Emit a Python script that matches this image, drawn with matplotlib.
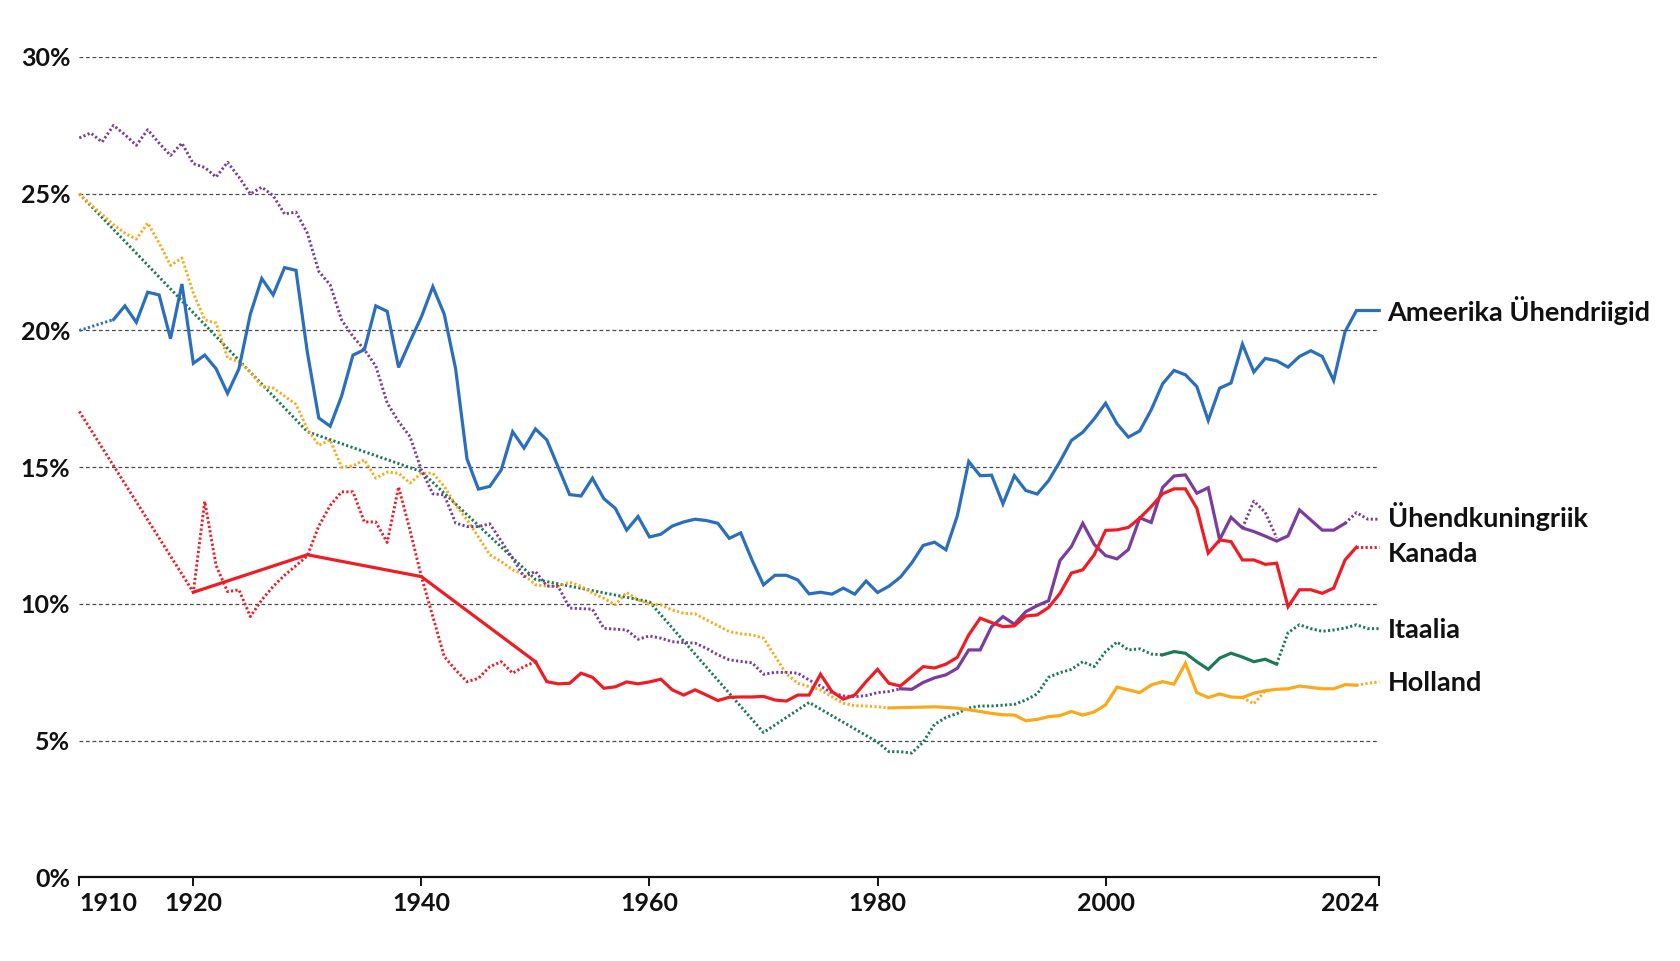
import matplotlib
matplotlib.use("Agg")
import matplotlib.pyplot as plt

# ---------------- data ----------------
# USA
us_est_years = [1910, 1913]
us_est_vals = [20.0, 20.4]
us_years = list(range(1913, 2025))
us_vals = [20.4, 20.9, 20.3, 21.4, 21.3, 19.7, 21.7, 18.8, 19.1, 18.6,
           17.7, 18.6, 20.6, 21.9, 21.3, 22.3, 22.2, 19.2, 16.8, 16.5,
           17.6, 19.1, 19.3, 20.9, 20.7, 18.65, 19.6, 20.5, 21.6, 20.6,
           18.6, 15.3, 14.2, 14.3, 14.9, 16.3, 15.7, 16.4, 16.0, 15.0,
           14.0, 13.95, 14.6, 13.85, 13.5, 12.7, 13.2, 12.45, 12.55, 12.85,
           13.0, 13.1, 13.05, 12.95, 12.4, 12.6, 11.6, 10.7, 11.05, 11.05,
           10.88, 10.37, 10.43, 10.36, 10.58, 10.36, 10.84, 10.42, 10.65, 10.98,
           11.5, 12.14, 12.26, 11.98, 13.23, 15.21, 14.69, 14.71, 13.66, 14.69,
           14.15, 14.02, 14.51, 15.21, 15.98, 16.28, 16.77, 17.34, 16.59, 16.1,
           16.33, 17.1, 18.05, 18.54, 18.38, 17.95, 16.71, 17.89, 18.08, 19.5,
           18.48, 18.98, 18.89, 18.66, 19.05, 19.26, 19.05, 18.17, 19.96, 20.73,
           20.73, 20.73]

# United Kingdom
uk_est_years = list(range(1910, 1983))
uk_est_vals = [27.04, 27.22, 26.89, 27.5, 27.16, 26.77, 27.34, 26.85, 26.4, 26.85,
               26.1, 25.96, 25.61, 26.15, 25.61, 24.99, 25.24, 24.93, 24.26, 24.33,
               23.56, 22.16, 21.67, 20.39, 19.78, 19.3, 18.7, 17.35, 16.67, 16.12,
               14.9, 14.03, 13.99, 12.96, 12.83, 12.83, 12.93, 12.3, 11.67, 11.0,
               11.19, 10.66, 10.64, 9.85, 9.83, 9.81, 9.11, 9.08, 9.05, 8.71,
               8.83, 8.75, 8.62, 8.59, 8.57, 8.38, 8.14, 7.96, 7.9, 7.85,
               7.43, 7.5, 7.5, 7.47, 7.22, 7.0, 6.75, 6.64, 6.61, 6.65,
               6.76, 6.8, 6.9]
uk_years = list(range(1982, 2022))
uk_vals = [6.9, 6.88, 7.13, 7.3, 7.41, 7.65, 8.32, 8.32, 9.17, 9.54,
           9.26, 9.72, 9.94, 10.12, 11.59, 12.1, 12.95, 12.18, 11.77, 11.65,
           11.99, 13.15, 12.98, 14.26, 14.68, 14.72, 14.05, 14.25, 12.35, 13.17,
           12.78, 12.65, 12.48, 12.3, 12.49, 13.44, 13.07, 12.7, 12.7, 12.95]
uk_alt_years = [2012, 2013, 2014, 2015]
uk_alt_vals = [12.78, 13.76, 13.35, 12.42]
uk_tail_years = [2021, 2022, 2023, 2024]
uk_tail_vals = [12.95, 13.34, 13.1, 13.1]

# Canada
ca_est_years = [1910] + list(range(1920, 1951))
ca_est_vals = [17.04, 10.43, 13.75, 11.4, 10.45, 10.52, 9.54, 10.15, 10.64, 11.05,
               11.4, 11.76, 12.85, 13.6, 14.1, 14.1, 13.0, 13.0, 12.25, 14.28,
               12.7, 11.0, 9.55, 8.08, 7.59, 7.16, 7.28, 7.71, 7.89, 7.47,
               7.71, 7.89]
ca_dec_years = [1920, 1930, 1940, 1950]
ca_dec_vals = [10.43, 11.8, 11.0, 7.89]
ca_years = list(range(1950, 2023))
ca_vals = [7.89, 7.16, 7.08, 7.1, 7.47, 7.32, 6.92, 6.97, 7.15, 7.08,
           7.15, 7.25, 6.86, 6.67, 6.86, 6.67, 6.47, 6.59, 6.6, 6.6,
           6.62, 6.49, 6.45, 6.67, 6.67, 7.43, 6.8, 6.52, 6.67, 7.16,
           7.61, 7.1, 7.0, 7.35, 7.71, 7.66, 7.8, 8.05, 8.87, 9.48,
           9.32, 9.17, 9.2, 9.56, 9.6, 9.87, 10.39, 11.13, 11.25, 11.8,
           12.69, 12.71, 12.8, 13.14, 13.56, 14.03, 14.21, 14.21, 13.5, 11.86,
           12.34, 12.28, 11.61, 11.61, 11.45, 11.49, 9.9, 10.52, 10.52, 10.39,
           10.58, 11.61, 12.08]
ca_tail_years = [2022, 2024]
ca_tail_vals = [12.08, 12.08]

# Italy
it_est_years = [1910, 1930, 1940, 1950, 1960, 1970, 1974, 1980] + list(range(1981, 2006))
it_est_vals = [25.0, 16.3, 14.84, 10.9, 10.08, 5.3, 6.4, 4.95,
               4.6, 4.6, 4.55, 4.95, 5.6, 5.85, 6.0, 6.2, 6.27, 6.27,
               6.3, 6.33, 6.49, 6.71, 7.32, 7.49, 7.61, 7.89, 7.71, 8.26,
               8.61, 8.32, 8.36, 8.17, 8.14]
it_years = list(range(2005, 2016))
it_vals = [8.14, 8.26, 8.2, 7.89, 7.61, 8.02, 8.2, 8.06, 7.89, 7.98, 7.8]
it_tail_years = list(range(2015, 2025))
it_tail_vals = [7.8, 8.95, 9.24, 9.1, 9.0, 9.05, 9.12, 9.24, 9.1, 9.1]

# Netherlands
nl_est_years = list(range(1910, 1982))
nl_est_vals = [25.0, 24.6, 24.25, 23.87, 23.56, 23.34, 23.93, 23.2, 22.38, 22.65,
               21.37, 20.39, 20.27, 19.0, 18.85, 18.5, 17.95, 17.9, 17.6, 17.3,
               16.4, 15.8, 16.0, 15.0, 15.05, 15.27, 14.6, 14.82, 14.78, 14.42,
               14.78, 14.78, 14.3, 13.62, 13.08, 12.45, 11.8, 11.55, 11.25, 11.07,
               10.7, 10.65, 10.65, 10.8, 10.65, 10.4, 10.21, 9.97, 10.42, 10.15,
               9.99, 9.97, 9.78, 9.66, 9.64, 9.42, 9.21, 8.99, 8.91, 8.87,
               8.75, 8.1, 7.45, 7.1, 6.98, 6.86, 6.61, 6.37, 6.28, 6.27,
               6.24, 6.2]
nl_years = list(range(1981, 2023))
nl_vals = [6.2, 6.21, 6.22, 6.23, 6.24, 6.22, 6.19, 6.13, 6.07, 6.0,
           5.95, 5.94, 5.73, 5.78, 5.88, 5.92, 6.07, 5.94, 6.05, 6.31,
           6.96, 6.86, 6.76, 7.04, 7.16, 7.07, 7.83, 6.76, 6.58, 6.71,
           6.6, 6.58, 6.74, 6.83, 6.88, 6.9, 7.0, 6.95, 6.9, 6.9,
           7.05, 7.03]
nl_alt_years = [2012, 2013, 2014]
nl_alt_vals = [6.58, 6.35, 6.83]
nl_tail_years = [2022, 2023, 2024]
nl_tail_vals = [7.03, 7.1, 7.15]

labels = ["Ameerika Ühendriigid", "Ühendkuningriik", "Kanada", "Itaalia", "Holland"]
x_ticks = [1910, 1920, 1940, 1960, 1980, 2000, 2024]
y_ticks = [0, 5, 10, 15, 20, 25, 30]

# ---------------- style ----------------
C_US = "#2b6fbc"
C_UK = "#7a3d9d"
C_CA = "#ef1c25"
C_IT = "#1c7b55"
C_NL = "#f8a91c"
FONT = "Lato"

fig = plt.figure(figsize=(16.8, 9.61), dpi=100)
ax = fig.add_axes([0.0472, 0.0869, 0.7738, 0.8538])

SOLID = dict(lw=2.3, solid_joinstyle="miter", clip_on=False)
DOT = dict(lw=2.1, ls=(0, (0.75, 0.8)), clip_on=False)


def solid(x, y, c, z=3):
    ax.plot(x, y, color=c, zorder=z, **SOLID)


def dotted(x, y, c, z=3):
    ax.plot(x, y, color=c, zorder=z, **DOT)


# Italy
dotted(it_est_years, it_est_vals, C_IT)
solid(it_years, it_vals, C_IT)
dotted(it_tail_years, it_tail_vals, C_IT)
# Netherlands
dotted(nl_est_years, nl_est_vals, C_NL)
solid(nl_years, nl_vals, C_NL)
dotted(nl_alt_years, nl_alt_vals, C_NL)
dotted(nl_tail_years, nl_tail_vals, C_NL)
# UK
dotted(uk_est_years, uk_est_vals, C_UK)
solid(uk_years, uk_vals, C_UK)
dotted(uk_alt_years, uk_alt_vals, C_UK)
dotted(uk_tail_years, uk_tail_vals, C_UK)
# Canada
dotted(ca_est_years, ca_est_vals, C_CA)
solid(ca_dec_years, ca_dec_vals, C_CA)
solid(ca_years, ca_vals, C_CA)
dotted(ca_tail_years, ca_tail_vals, C_CA)
# USA
dotted(us_est_years, us_est_vals, C_US)
solid(us_years, us_vals, C_US, z=4)

ax.set_xlim(1910, 2024)
ax.set_ylim(0, 30)

# grid
for v in y_ticks[1:]:
    ax.axhline(v, color="#4a4a4a", lw=0.9, ls=(0, (3.0, 2.2)), zorder=1)

for s in ["top", "right", "left"]:
    ax.spines[s].set_visible(False)
ax.spines["bottom"].set_linewidth(1.6)
ax.spines["bottom"].set_color("#111111")
ax.spines["bottom"].set_zorder(5)

ax.set_yticks(y_ticks)
ax.set_yticklabels([f"{v}%" for v in y_ticks])
ax.tick_params(axis="y", length=0, pad=6.5)
ax.set_xticks(x_ticks)
ax.set_xticklabels([str(v) for v in x_ticks])
ax.tick_params(axis="x", length=6.5, width=1.4, color="#111111", pad=4, direction="out")

for lab in ax.get_yticklabels() + ax.get_xticklabels():
    lab.set_fontfamily(FONT)
    lab.set_fontweight("bold")
    lab.set_fontsize(18)
    lab.set_color("#111111")

xl = ax.get_xticklabels()
xl[0].set_horizontalalignment("left")
xl[-1].set_horizontalalignment("right")

# end labels
label_y = [us_vals[-1], uk_tail_vals[-1] + 0.1, ca_tail_vals[-1] - 0.25,
           it_tail_vals[-1] - 0.05, nl_tail_vals[-1] - 0.05]
for txt, yv in zip(labels, label_y):
    ax.annotate(txt, xy=(2024, yv), xytext=(6, 0), textcoords="offset points",
                ha="left", va="center", fontsize=19.5, fontweight="bold",
                fontfamily=FONT, color="#111111", annotation_clip=False)

fig.savefig("out.png", dpi=100, facecolor="white")
